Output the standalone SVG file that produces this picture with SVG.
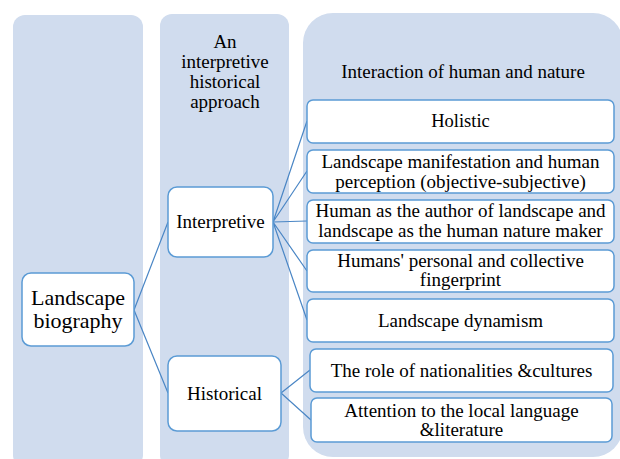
<svg xmlns="http://www.w3.org/2000/svg" width="620" height="459" viewBox="0 0 620 459">
<style>
.col{fill:#D0DCEE;}
.box{fill:#FFFFFF;stroke:#5B9BD5;stroke-width:1.5;}
.t{font-family:'Liberation Serif','Times New Roman',Tinos,'DejaVu Serif',serif;fill:#000;text-anchor:middle;}
.c{fill:none;stroke:#4A86C5;stroke-width:1.2;}
</style>
<rect width="620" height="459" fill="#FFFFFF"/>
<g id="columns">
<rect class="col" x="13" y="15" width="130" height="452" rx="12"/>
<rect class="col" x="160" y="14" width="129" height="453" rx="12"/>
<rect class="col" x="303" y="13" width="320" height="444" rx="30"/>
<text class="t" x="225" y="48" font-size="19">An</text>
<text class="t" x="225" y="68" font-size="19">interpretive</text>
<text class="t" x="225" y="88" font-size="19">historical</text>
<text class="t" x="225" y="108" font-size="19">approach</text>
<text class="t" x="463" y="78" font-size="19">Interaction of human and nature</text>
</g>
<g id="connectors">
<path class="c" d="M134,310 L168,222 M134,310 L168,393"/>
<path class="c" d="M273,222 L307,121 M273,222 L307,171 M273,222 L307,221 M273,222 L307,271 M273,222 L307,320"/>
<path class="c" d="M281,393 L310,370 M281,393 L311,420"/>
</g>
<g id="landscape-biography">
<rect class="box" x="22" y="273" width="112" height="73" rx="9"/>
<text class="t" x="78" y="305" font-size="22">Landscape</text>
<text class="t" x="78" y="328" font-size="22">biography</text>
</g>
<g id="interpretive">
<rect class="box" x="168" y="187" width="105" height="70" rx="9"/>
<text class="t" x="220.5" y="228" font-size="19">Interpretive</text>
</g>
<g id="historical">
<rect class="box" x="168" y="356" width="113" height="75" rx="9"/>
<text class="t" x="224.5" y="400" font-size="19">Historical</text>
</g>
<g id="holistic">
<rect class="box" x="307" y="100" width="307" height="43" rx="6"/>
<text class="t" x="460.5" y="127" font-size="18.5">Holistic</text>
</g>
<g id="manifestation">
<rect class="box" x="307" y="150" width="307" height="43" rx="6"/>
<text class="t" x="460.5" y="168" font-size="19">Landscape manifestation and human</text>
<text class="t" x="460.5" y="188" font-size="19">perception (objective-subjective)</text>
</g>
<g id="author">
<rect class="box" x="307" y="200" width="307" height="43" rx="6"/>
<text class="t" x="460.5" y="217" font-size="19">Human as the author of landscape and</text>
<text class="t" x="460.5" y="237" font-size="19">landscape as the human nature maker</text>
</g>
<g id="fingerprint">
<rect class="box" x="307" y="250" width="307" height="42" rx="6"/>
<text class="t" x="460.5" y="267" font-size="19">Humans' personal and collective</text>
<text class="t" x="460.5" y="286" font-size="19">fingerprint</text>
</g>
<g id="dynamism">
<rect class="box" x="307" y="299" width="307" height="43" rx="6"/>
<text class="t" x="460.5" y="327" font-size="19">Landscape dynamism</text>
</g>
<g id="nationalities">
<rect class="box" x="310" y="349" width="303" height="43" rx="6"/>
<text class="t" x="461.5" y="377" font-size="19">The role of nationalities &amp;cultures</text>
</g>
<g id="language">
<rect class="box" x="311" y="398" width="301" height="44" rx="6"/>
<text class="t" x="461.5" y="417" font-size="19">Attention to the local language</text>
<text class="t" x="461.5" y="436" font-size="19">&amp;literature</text>
</g>
</svg>
